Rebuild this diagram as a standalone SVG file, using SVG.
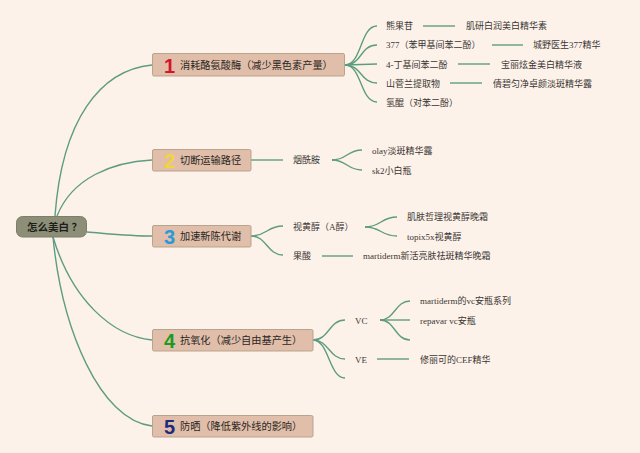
<svg xmlns="http://www.w3.org/2000/svg" width="640" height="453" viewBox="0 0 640 453">
<style>
.bg{fill:#fdf2ea}
.con path{fill:none;stroke:#5e9c80;stroke-width:1.4}
.box{fill:#e0bea9;stroke:#b7a48c;stroke-width:1}
.root{fill:#8d8e78;stroke:#7d7e69;stroke-width:1}
.rt{font-family:"Noto Sans CJK SC",sans-serif;font-size:10.5px;font-weight:bold;fill:#1e1e1a}
.bt{font-family:"Noto Sans CJK SC",sans-serif;font-size:10.2px;fill:#2a2624}
.num{font-family:"Liberation Sans","Noto Sans",sans-serif;font-size:20px;font-weight:bold}
.lt{font-family:"Liberation Serif","Noto Sans CJK SC",serif;font-size:9px;fill:#3a3633}
</style>
<rect class="bg" x="0" y="0" width="640" height="453"/>
<g class="con" id="connectors">
<path d="M55,216 C62,120 100,70 152,65"/>
<path d="M57,216 C72,178 112,162 152,160"/>
<path d="M87,232 C112,234 130,236 152,236"/>
<path d="M53,237 C72,300 112,336 152,340"/>
<path d="M53,237 C62,330 100,420 152,426"/>
<path d="M345,65 C362,65 360,26 377,26"/>
<path d="M345,65 C362,65 360,45 377,45"/>
<path d="M345,65 L377,64"/>
<path d="M345,65 C362,65 360,83 377,83"/>
<path d="M345,65 C362,65 360,102 377,102"/>
<path d="M423,26 H455"/>
<path d="M492,45 H523"/>
<path d="M458,64 H490"/>
<path d="M450,83 H482"/>
<path d="M251,160 H283"/>
<path d="M332,160 C347,160 347,150 362,150"/>
<path d="M332,160 C347,160 347,170 362,170"/>
<path d="M251,236 C267,236 267,226 283,226"/>
<path d="M251,236 C267,236 267,255 283,255"/>
<path d="M365,227 C381,227 381,217 397,217"/>
<path d="M365,227 C381,227 381,236 397,236"/>
<path d="M322,256 H353"/>
<path d="M313,340 C329,340 329,320 345,320"/>
<path d="M313,340 C329,340 329,359 345,359"/>
<path d="M313,340 C329,340 329,378 345,378"/>
<path d="M380,320 C395,320 395,301 410,301"/>
<path d="M380,320 H410"/>
<path d="M380,320 C395,320 395,340 410,340"/>
<path d="M377,359 H409"/>
</g>
<g id="root">
<rect class="root" x="16.5" y="216.5" width="70" height="20.5" rx="6"/>
<text class="rt" x="27" y="230.5">怎么美白<tspan dx="2.5">？</tspan></text>
</g>
<g id="b1">
<rect class="box" x="152.5" y="53.5" width="192" height="22.5" rx="1.5"/>
<text class="num" x="164" y="72.5" fill="#d6152b">1</text>
<text class="bt" x="180" y="68.5">消耗酪氨酸酶（减少黑色素产量）</text>
</g>
<g id="b2">
<rect class="box" x="152.5" y="149.5" width="98.5" height="21.5" rx="1.5"/>
<text class="num" x="164" y="168" fill="#f0d53c">2</text>
<text class="bt" x="180" y="164">切断运输路径</text>
</g>
<g id="b3">
<rect class="box" x="152.5" y="225.5" width="98.5" height="21.5" rx="1.5"/>
<text class="num" x="164" y="244" fill="#2a99d8">3</text>
<text class="bt" x="180" y="240">加速新陈代谢</text>
</g>
<g id="b4">
<rect class="box" x="152.5" y="329.5" width="160.5" height="21.5" rx="1.5"/>
<text class="num" x="164" y="348" fill="#1c9a22">4</text>
<text class="bt" x="180" y="344">抗氧化（减少自由基产生）</text>
</g>
<g id="b5">
<rect class="box" x="152.5" y="415.5" width="160.5" height="21.5" rx="1.5"/>
<text class="num" x="164" y="434" fill="#1f2a7c">5</text>
<text class="bt" x="180" y="430">防晒（降低紫外线的影响）</text>
</g>
<g id="leaf1a"><text class="lt" x="386" y="29">熊果苷</text></g>
<g id="leaf1a2"><text class="lt" x="466" y="29">肌研白润美白精华素</text></g>
<g id="leaf1b"><text class="lt" x="386" y="48">377（苯甲基间苯二酚）</text></g>
<g id="leaf1b2"><text class="lt" x="533" y="48">城野医生377精华</text></g>
<g id="leaf1c"><text class="lt" x="386" y="67.5">4-丁基间苯二酚</text></g>
<g id="leaf1c2"><text class="lt" x="501" y="67.5">宝丽炫金美白精华液</text></g>
<g id="leaf1d"><text class="lt" x="386" y="86.5">山菅兰提取物</text></g>
<g id="leaf1d2"><text class="lt" x="493" y="86.5">倩碧匀净卓颜淡斑精华露</text></g>
<g id="leaf1e"><text class="lt" x="386" y="106">氢醌（对苯二酚）</text></g>
<g id="leaf2"><text class="lt" x="293" y="163">烟酰胺</text></g>
<g id="leaf2a"><text class="lt" x="372" y="154">olay淡斑精华露</text></g>
<g id="leaf2b"><text class="lt" x="372" y="174">sk2小白瓶</text></g>
<g id="leaf3a"><text class="lt" x="293" y="230">视黄醇（A醇）</text></g>
<g id="leaf3b"><text class="lt" x="293" y="259">果酸</text></g>
<g id="leaf3a1"><text class="lt" x="407" y="220">肌肤哲理视黄醇晚霜</text></g>
<g id="leaf3a2"><text class="lt" x="407" y="240">topix5x视黄醇</text></g>
<g id="leaf3b1"><text class="lt" x="363" y="259">martiderm新活亮肤祛斑精华晚霜</text></g>
<g id="leaf4a"><text class="lt" x="355" y="323.5">VC</text></g>
<g id="leaf4b"><text class="lt" x="355" y="362.5">VE</text></g>
<g id="leaf4a1"><text class="lt" x="420" y="304">martiderm的vc安瓶系列</text></g>
<g id="leaf4a2"><text class="lt" x="420" y="324">repavar vc安瓶</text></g>
<g id="leaf4b1"><text class="lt" x="420" y="362.5">修丽可的CEF精华</text></g>
</svg>
